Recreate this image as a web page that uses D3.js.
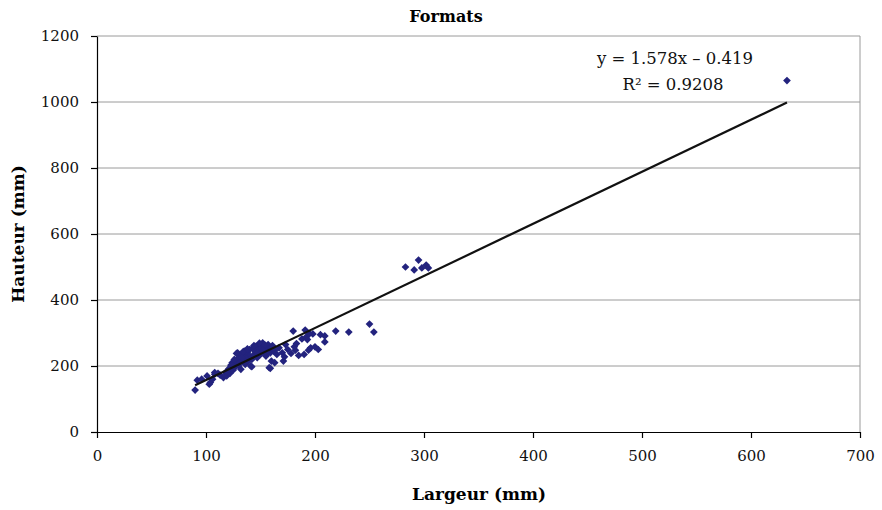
<!DOCTYPE html>
<html><head><meta charset="utf-8">
<script src="https://cdn.jsdelivr.net/npm/d3@7"></script>
<style>body{margin:0;background:#fff;} svg{display:block;}</style>
</head><body>
<svg id="c" width="882" height="510"></svg>
<script>
const title = "Formats";
const xLabel = "Largeur (mm)";
const yLabel = "Hauteur (mm)";
const xTicks = [0,100,200,300,400,500,600,700];
const yTicks = [0,200,400,600,800,1000,1200];
const largeur = [90,92,96,101,103,104,106,108,111,113,116,118,119,120,121,122,123,124,125,126,127,128,129,130,130,131,132,133,134,135,136,137,138,139,140,140,141,142,143,144,145,146,147,148,149,150,150,151,152,153,154,155,156,157,158,159,160,160,162,163,165,167,170,171,172,173,175,178,180,181,182,183,185,188,190,191,192,193,194,195,196,198,200,203,205,209,209,219,231,250,254,283,291,295,298,302,304,633,128,134,137,142,149,154,159,163,119,123,108,144,147,152,156,161,138,133,126];
const hauteur = [127,157,160,170,145,150,160,175,178,172,165,180,170,185,192,178,200,210,188,195,205,215,240,225,200,210,190,235,218,245,205,228,240,215,250,230,200,220,255,235,245,260,225,250,240,265,235,255,270,245,260,230,250,265,195,240,255,215,245,210,235,255,240,215,228,265,250,238,306,258,248,268,232,282,235,309,288,280,248,298,255,297,258,250,295,291,273,306,303,327,303,500,491,521,497,506,497,1065,238,243,223,198,269,264,193,248,183,203,180,262,240,248,238,262,252,225,220];
const slope = 1.578, intercept = -0.419;
const eqText = "y = 1.578x \u2013 0.419";
const r2Text = "R\u00b2 = 0.9208";

const svg = d3.select("#c");
const m = {l:97, r:22, t:36, b:78};
const W = 882, H = 510;
const x = d3.scaleLinear().domain([0,700]).range([m.l, W-m.r]);
const y = d3.scaleLinear().domain([0,1200]).range([H-m.b, m.t]);
const font = "DejaVu Serif";

svg.append("g").selectAll("line").data(yTicks.filter(d=>d>0)).join("line")
  .attr("x1", x(0)).attr("x2", x(700)).attr("y1", d=>y(d)).attr("y2", d=>y(d))
  .attr("stroke", "#9a9a9a").attr("stroke-width", 1);
svg.append("line").attr("x1", x(700)).attr("x2", x(700)).attr("y1", y(0)).attr("y2", y(1200))
  .attr("stroke", "#9a9a9a");

const xa = svg.append("g").attr("transform", `translate(0,${y(0)})`)
  .call(d3.axisBottom(x).tickValues(xTicks).tickFormat(d3.format("d")).tickSize(6).tickPadding(12).tickSizeOuter(0));
const ya = svg.append("g").attr("transform", `translate(${x(0)},0)`)
  .call(d3.axisLeft(y).tickValues(yTicks).tickFormat(d3.format("d")).tickSize(6).tickPadding(12).tickSizeOuter(0));
[xa, ya].forEach(a => {
  a.selectAll("path,line").attr("stroke", "#000").attr("stroke-width", 1.2);
  a.selectAll("text").attr("font-family", font).attr("font-size", 15).attr("fill", "#111");
});

svg.append("g").selectAll("path").data(largeur.map((d,i)=>[d, hauteur[i]])).join("path")
  .attr("d", d3.symbol(d3.symbolSquare, 30))
  .attr("transform", d => `translate(${x(d[0])},${y(d[1])}) rotate(45)`)
  .attr("fill", "#23237e");

const xmin = d3.min(largeur), xmax = d3.max(largeur);
svg.append("line")
  .attr("x1", x(xmin)).attr("y1", y(slope*xmin+intercept))
  .attr("x2", x(xmax)).attr("y2", y(slope*xmax+intercept))
  .attr("stroke", "#111").attr("stroke-width", 2.2);

svg.append("text").attr("x", 675).attr("y", 64).attr("text-anchor","middle")
  .attr("font-family", font).attr("font-size", 16.5).attr("fill","#111").text(eqText);
svg.append("text").attr("x", 673).attr("y", 90).attr("text-anchor","middle")
  .attr("font-family", font).attr("font-size", 16.5).attr("fill","#111").text(r2Text);

svg.append("text").attr("x", 446).attr("y", 22).attr("text-anchor","middle")
  .attr("font-family", font).attr("font-weight","bold").attr("font-size", 16).text(title);
svg.append("text").attr("x", 479).attr("y", 500).attr("text-anchor","middle")
  .attr("font-family", font).attr("font-weight","bold").attr("font-size", 17).text(xLabel);
svg.append("text").attr("transform", "translate(24,234) rotate(-90)").attr("text-anchor","middle")
  .attr("font-family", font).attr("font-weight","bold").attr("font-size", 17).text(yLabel);
</script>
</body></html>
